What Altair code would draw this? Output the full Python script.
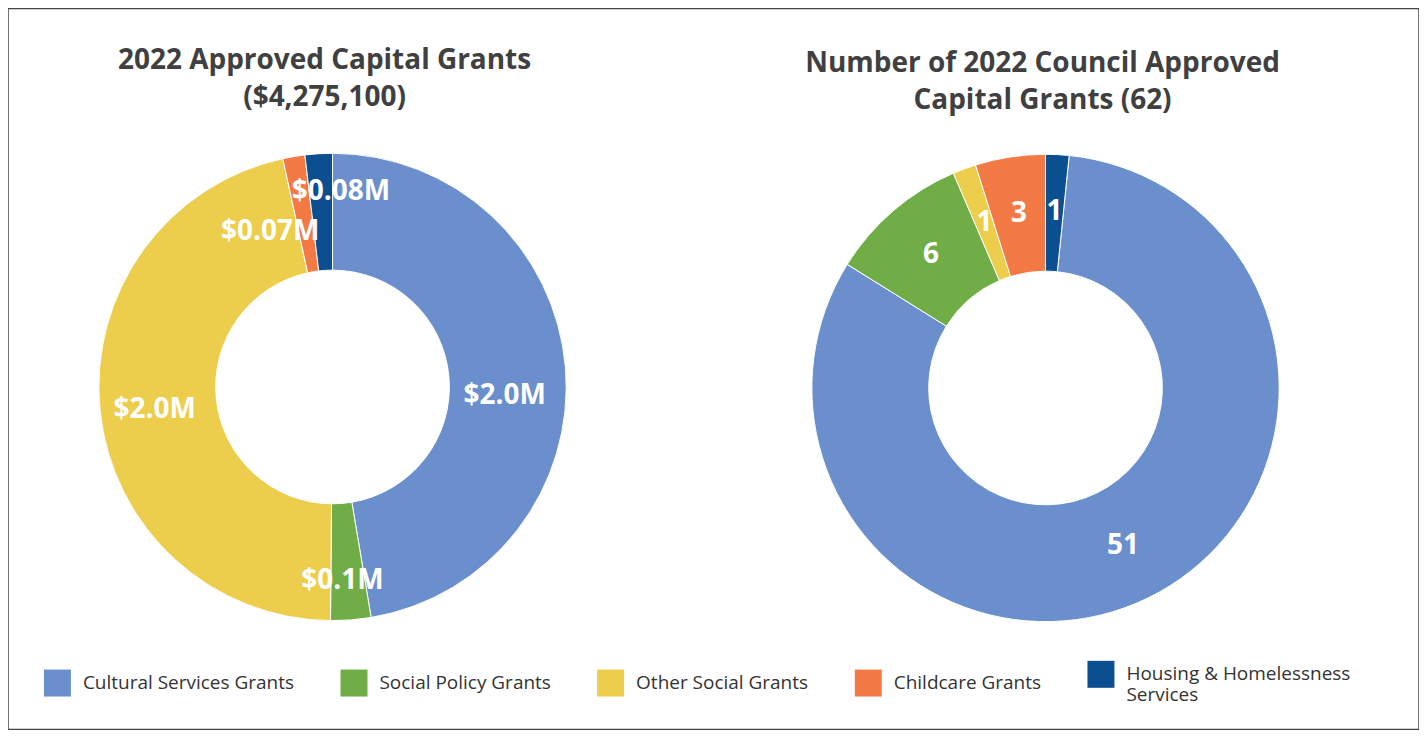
import math
import altair as alt
import pandas as pd

# ---------------- data ----------------
categories = [
    "Cultural Services Grants",
    "Social Policy Grants",
    "Other Social Grants",
    "Childcare Grants",
    "Housing & Homelessness Services",
]
colors = ["#6A8FCC", "#70AD47", "#EDCD4C", "#F47A45", "#0B4F91"]

amounts = [2024700, 118800, 1985600, 65300, 80700]          # total $4,275,100
amount_labels = ["$2.0M", "$0.1M", "$2.0M", "$0.07M", "$0.08M"]

counts = [51, 6, 1, 3, 1]                                    # total 62
count_labels = ["51", "6", "1", "3", "1"]

left_title = ["2022 Approved Capital Grants", "($4,275,100)"]
right_title = ["Number of 2022 Council Approved", "Capital Grants (62)"]

legend_wrap = {"Housing & Homelessness Services": ["Housing & Homelessness", "Services"]}

left_df = pd.DataFrame({"category": categories, "order": list(range(len(categories))),
                        "value": amounts, "label": amount_labels})
right_df = pd.DataFrame({"category": categories, "order": list(range(len(categories))),
                         "value": counts, "label": count_labels})

# ---------------- layout / style ----------------
W, H = 1413, 722
R_OUT, R_IN = 234, 117
LEFT_C = (325, 379)
RIGHT_C = (1039, 380)
TAU = 2 * math.pi
right_start = TAU * counts[-1] / sum(counts)   # first slice rotated by one "Housing" slice
FONT = "Open Sans"

label_expr = "datum.label"
for k, v in legend_wrap.items():
    arr = "[" + ", ".join("'" + s + "'" for s in v) + "]"
    label_expr = f"datum.label == '{k}' ? {arr} : " + label_expr

color = alt.Color(
    "category:N",
    scale=alt.Scale(domain=categories, range=colors),
    legend=alt.Legend(
        title=None, orient="none", legendX=36, legendY=653, direction="horizontal",
        symbolType="square", symbolSize=729, symbolStrokeWidth=0, symbolOpacity=1,
        labelFont=FONT, labelFontSize=19, labelColor="#333333", labelOffset=12,
        columnPadding=46, labelLimit=600, padding=0, labelExpr=label_expr,
    ),
)


def donut(df, center, theta_range, label_radius, offsets):
    cx, cy = center
    tscale = alt.Scale(range=theta_range)
    arc = alt.Chart(df).mark_arc(
        innerRadius=R_IN, outerRadius=R_OUT, stroke="white", strokeWidth=1
    ).encode(
        theta=alt.Theta("value:Q", stack=True, scale=tscale),
        color=color,
        order=alt.Order("order:Q"),
        x=alt.value(cx), y=alt.value(cy),
        tooltip=["category:N", "value:Q"],
    )
    base = alt.Chart(df).transform_stack(
        stack="value", as_=["v0", "v1"], groupby=[], sort=[alt.SortField("order")]
    ).transform_calculate(mid="(datum.v0 + datum.v1) / 2")
    layers = [arc]
    groups = {}
    for cat in categories:
        groups.setdefault(offsets.get(cat, (0, 0)), []).append(cat)
    for (dx, dy), cats in groups.items():
        t = base.transform_filter(
            alt.FieldOneOfPredicate(field="category", oneOf=cats)
        ).mark_text(
            radius=label_radius, font=FONT, fontSize=28, fontWeight="bold",
            color="white", align="center", baseline="middle", dx=dx, dy=dy,
        ).encode(
            theta=alt.Theta("mid:Q", scale=tscale),
            text="label:N",
            x=alt.value(cx), y=alt.value(cy),
        )
        layers.append(t)
    return alt.layer(*layers)


left_offsets = {
    "Cultural Services Grants": (-5, 24),
    "Social Policy Grants": (-4, 17),
    "Other Social Grants": (-1, 5),
    "Childcare Grants": (-33, 20),
    "Housing & Homelessness Services": (19, -18),
}

left = donut(left_df, LEFT_C, [0, TAU], 178, left_offsets)
right = donut(right_df, RIGHT_C, [right_start, right_start + TAU], 176, {})

one = alt.Data(values=[{}])
title_style = dict(font=FONT, fontSize=28, fontWeight="bold", color="#404040",
                   align="center", baseline="middle", lineHeight=37)
t_left = alt.Chart(one).mark_text(**title_style).encode(
    text=alt.value(left_title), x=alt.value(317), y=alt.value(53))
t_right = alt.Chart(one).mark_text(**title_style).encode(
    text=alt.value(right_title), x=alt.value(1036), y=alt.value(56))

chart = alt.layer(left, right, t_left, t_right).resolve_scale(
    theta="independent"
).properties(
    width=W, height=H, padding=0, background="white"
).configure_view(
    stroke="#444444", strokeWidth=1.5
)

chart.save("out.html", embed_options={"renderer": "svg", "actions": False})
